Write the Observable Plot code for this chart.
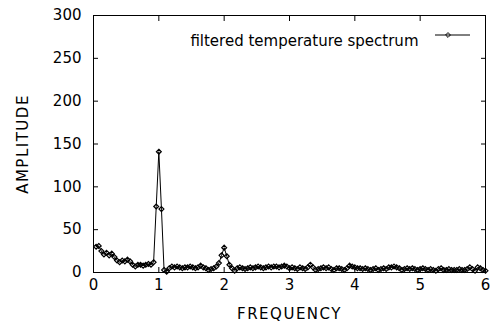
<!DOCTYPE html>
<html>
<head>
<meta charset="utf-8">
<script src="https://cdn.jsdelivr.net/npm/d3@7"></script>
<script src="https://cdn.jsdelivr.net/npm/@observablehq/plot@0.6"></script>
<style>
  html, body { margin: 0; padding: 0; background: #fff; }
  #chart { position: relative; width: 495px; height: 327px; }
</style>
</head>
<body>
<div id="chart"></div>
<script>
const seriesName = "filtered temperature spectrum";
const xLabel = "FREQUENCY";
const yLabel = "AMPLITUDE";
const xTicks = [0, 1, 2, 3, 4, 5, 6];
const yTicks = [0, 50, 100, 150, 200, 250, 300];
const freqStep = 0.04;
const amplitude = [
  30, 31, 25, 21, 23, 20, 22, 18, 14, 12,
  14, 13, 15, 13, 9, 7, 9, 9, 8, 9,
  10, 9, 12, 77, 141, 74, 3, 1, 5, 7,
  6, 7, 6, 5, 6, 6, 7, 6, 5, 6,
  8, 6, 5, 3, 4, 5, 7, 11, 20, 29,
  19, 9, 5, 2, 5, 6, 5, 4, 5, 6,
  5, 6, 7, 6, 5, 6, 7, 6, 7, 7,
  6, 7, 8, 7, 5, 6, 5, 4, 6, 5,
  4, 6, 9, 6, 3, 4, 5, 6, 5, 6,
  4, 3, 5, 5, 4, 3, 5, 8, 7, 6,
  5, 5, 4, 5, 4, 3, 4, 5, 3, 4,
  5, 4, 6, 6, 7, 6, 5, 3, 4, 5,
  4, 5, 4, 3, 4, 5, 4, 3, 4, 3,
  2, 4, 5, 3, 3, 4, 3, 3, 3, 4,
  3, 3, 4, 6, 4, 2, 6, 5, 3, 2
];
const frequency = amplitude.map((_, i) => +((i + 1) * freqStep).toFixed(2));
const data = amplitude.map((a, i) => ({f: frequency[i], a}));

const font = "'DejaVu Sans', 'Liberation Sans', Arial, sans-serif";
const fs = 15;

const plot = Plot.plot({
  width: 495,
  height: 327,
  marginLeft: 93,
  marginRight: 10,
  marginTop: 15,
  marginBottom: 55,
  style: {fontFamily: font, fontSize: fs + "px", color: "#000", background: "#fff"},
  x: {domain: [0, 6]},
  y: {domain: [0, 300]},
  marks: [
    Plot.frame({stroke: "#000", strokeWidth: 1}),
    Plot.axisX(xTicks, {anchor: "bottom", tickSize: 0, tickPadding: 7, label: xLabel, labelAnchor: "center", labelOffset: 46, labelArrow: "none", fontSize: fs}),
    Plot.axisX(xTicks, {anchor: "bottom", tickSize: -5, tickFormat: () => "", label: null}),
    Plot.axisX(xTicks, {anchor: "top", tickSize: -5, tickFormat: () => "", label: null}),
    Plot.axisY(yTicks, {anchor: "left", tickSize: 0, tickPadding: 12, label: yLabel, labelAnchor: "center", labelOffset: 76, labelArrow: "none", fontSize: fs}),
    Plot.axisY(yTicks, {anchor: "left", tickSize: -5, tickFormat: () => "", label: null}),
    Plot.axisY(yTicks, {anchor: "right", tickSize: -5, tickFormat: () => "", label: null}),
    Plot.line(data, {x: "f", y: "a", stroke: "#000", strokeWidth: 1}),
    Plot.dot(data, {x: "f", y: "a", symbol: "diamond2", r: 2.2, stroke: "#000", strokeWidth: 1.2}),
    Plot.text([seriesName], {frameAnchor: "top-right", dx: -67, dy: 20, textAnchor: "end", fontSize: fs, fill: "#000"})
  ]
});
document.getElementById("chart").appendChild(plot);

// slightly wider axis titles, as in the reference
d3.select(plot).selectAll("g[aria-label='x-axis label'] text, g[aria-label='y-axis label'] text")
  .attr("letter-spacing", "1.5px");

// legend sample line with marker
const svg = d3.select(plot);
const lx1 = 495 - 10 - 50, lx2 = 495 - 10 - 15, ly = 15 + 20;
svg.append("line").attr("x1", lx1).attr("x2", lx2).attr("y1", ly).attr("y2", ly)
  .attr("stroke", "#000").attr("stroke-width", 1);
svg.append("path").attr("d", d3.symbol(d3.symbolDiamond2, 15)())
  .attr("transform", `translate(${lx1 + 13},${ly})`)
  .attr("fill", "none").attr("stroke", "#000");
</script>
</body>
</html>
